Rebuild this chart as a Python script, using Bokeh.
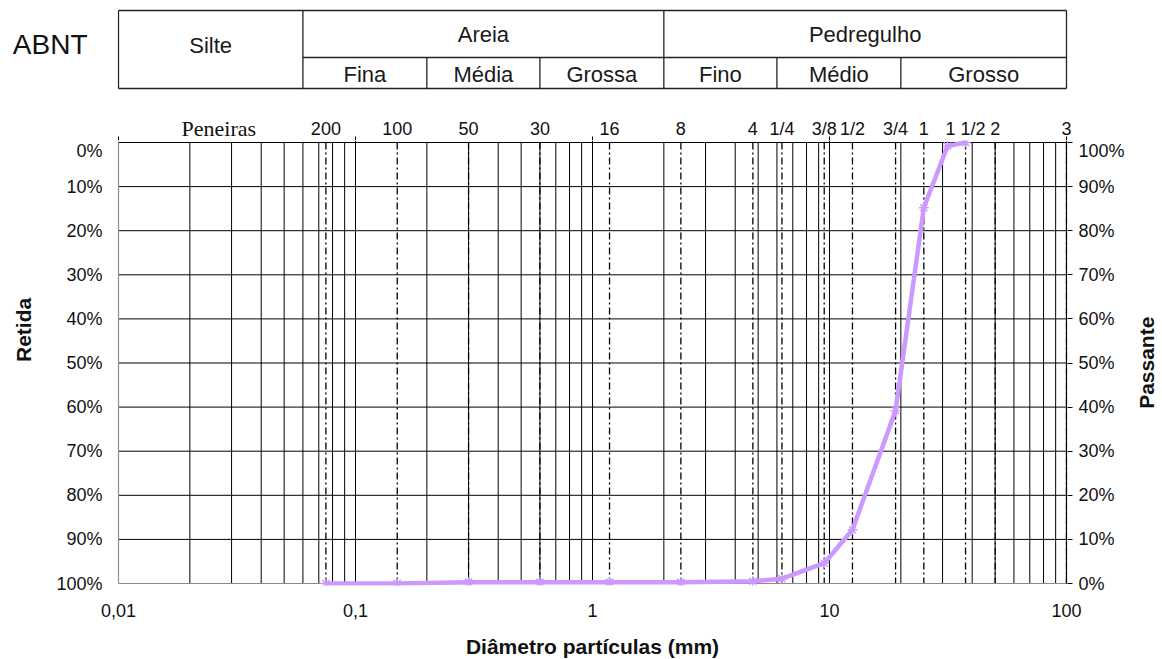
import math
from bokeh.plotting import figure
from bokeh.layouts import column
from bokeh.models import Range1d, LinearAxis, FixedTicker
from bokeh.core.properties import value
from bokeh.embed import file_html
from bokeh.resources import INLINE

# ---------------- data ----------------
SIEVE_LABELS = ["200", "100", "50", "30", "16", "8", "4", "1/4", "3/8", "1/2",
                "3/4", "1", "1 1/2", "2", "3"]
SIEVE_MM = [0.075, 0.15, 0.3, 0.6, 1.18, 2.36, 4.75, 6.3, 9.5, 12.5,
            19.0, 25.0, 37.5, 50.0, 100.0]

CURVE_MM = [0.075, 0.15, 0.3, 0.6, 1.18, 2.36, 4.75, 6.3, 9.5, 12.5,
            19.0, 25.0, 31.5, 37.5]
CURVE_PASSING = [0.0, 0.0, 0.3, 0.3, 0.3, 0.3, 0.5, 1.1, 4.6, 12.2,
                 39.2, 85.2, 99.2, 100.0]

Y_TICKS = [0, 10, 20, 30, 40, 50, 60, 70, 80, 90, 100]
X_TICKS = [0.01, 0.1, 1, 10, 100]
X_TICK_LABELS = ["0,01", "0,1", "1", "10", "100"]

CLASS_MAJOR = ["Silte", "Areia", "Pedregulho"]
CLASS_MAJOR_BOUNDS = [0.01, 0.06, 2.0, 100.0]
CLASS_MINOR = ["Fina", "Média", "Grossa", "Fino", "Médio", "Grosso"]
CLASS_MINOR_BOUNDS = [0.06, 0.2, 0.6, 2.0, 6.0, 20.0, 100.0]

# ---------------- style constants ----------------
PX_PER_DEC = 237.0
PX_PER_PCT = 4.41
FONT = "Liberation Sans"
LAV = "#CC99FF"
TXT = "#111111"
X_START = 0.01 * 10 ** (-1 / PX_PER_DEC)


def plain_axis(ax, size="18px", standoff=10, bold=False):
    ax.axis_line_color = None
    ax.major_tick_line_color = None
    ax.minor_tick_line_color = None
    ax.major_tick_out = 0
    ax.major_tick_in = 0
    ax.minor_tick_out = 0
    ax.minor_tick_in = 0
    ax.major_label_standoff = standoff
    ax.major_label_text_font = FONT
    ax.major_label_text_font_size = size
    ax.major_label_text_color = TXT
    if bold:
        ax.major_label_text_font_style = "bold"


# ================= header figure (classification table + sieve names) =================
# y in pixel units (0 = top of page); x on the same log scale as the chart
hdr = figure(x_axis_type="log",
             x_range=Range1d(X_START, 100 * 10 ** (31 / PX_PER_DEC)),
             y_range=Range1d(140, 0),
             frame_width=980, frame_height=140,
             min_border_left=117, min_border_right=65, min_border_top=0, min_border_bottom=0,
             x_axis_location=None, y_axis_location="left",
             output_backend="svg", toolbar_location=None, title=None)
hdr.outline_line_color = None
hdr.xgrid.visible = False
hdr.ygrid.visible = False
ha = hdr.yaxis[0]
ha.ticker = FixedTicker(ticks=[44])
ha.major_label_overrides = {44: "ABNT"}
plain_axis(ha, size="28px", standoff=30)

H_TOP, H_MID, H_BOT = 10, 57, 88
hx0 = [CLASS_MAJOR_BOUNDS[0], CLASS_MAJOR_BOUNDS[0], CLASS_MAJOR_BOUNDS[1]]
hx1 = [CLASS_MAJOR_BOUNDS[-1]] * 3
hyy = [H_TOP, H_BOT, H_MID]
hdr.segment(x0=hx0, x1=hx1, y0=hyy, y1=hyy, line_color="#222222", line_width=1.3)
hdr.segment(x0=CLASS_MAJOR_BOUNDS, x1=CLASS_MAJOR_BOUNDS,
            y0=[H_TOP] * len(CLASS_MAJOR_BOUNDS), y1=[H_BOT] * len(CLASS_MAJOR_BOUNDS),
            line_color="#222222", line_width=1.3)
inner = [b for b in CLASS_MINOR_BOUNDS if b not in CLASS_MAJOR_BOUNDS]
hdr.segment(x0=inner, x1=inner, y0=[H_MID] * len(inner), y1=[H_BOT] * len(inner),
            line_color="#222222", line_width=1.3)

maj_x = [math.sqrt(a * b) for a, b in zip(CLASS_MAJOR_BOUNDS[:-1], CLASS_MAJOR_BOUNDS[1:])]
hdr.text(x=maj_x, y=[45, 33.5, 33.5], text=CLASS_MAJOR, text_font=value(FONT),
         text_font_size="22px", text_color="#1a1a1a", text_align="center", text_baseline="middle")
min_x = [math.sqrt(a * b) for a, b in zip(CLASS_MINOR_BOUNDS[:-1], CLASS_MINOR_BOUNDS[1:])]
hdr.text(x=min_x, y=[74] * len(min_x), text=CLASS_MINOR, text_font=value(FONT),
         text_font_size="22px", text_color="#1a1a1a", text_align="center", text_baseline="middle")

hdr.text(x=SIEVE_MM, y=[128] * len(SIEVE_MM), text=SIEVE_LABELS,
         text_font=value(FONT), text_font_size="18px", text_color=TXT,
         text_align="center", text_baseline="middle")
hdr.text(x=[0.0265], y=[128], text=["Peneiras"],
         text_font=value("Liberation Serif"), text_font_size="22px", text_color=TXT,
         text_align="center", text_baseline="middle")
hdr.segment(x0=X_TICKS, x1=X_TICKS, y0=[136] * len(X_TICKS), y1=[140] * len(X_TICKS),
            line_color="black", line_width=1)

# ================= main chart =================
p = figure(x_axis_type="log",
           x_range=Range1d(X_START, 100 * 10 ** (1 / PX_PER_DEC)),
           y_range=Range1d(100 + 2 / PX_PER_PCT, -2 / PX_PER_PCT),
           frame_width=950, frame_height=445,
           min_border_left=117, min_border_right=95, min_border_top=0, min_border_bottom=60,
           output_backend="svg", toolbar_location=None, title=None)
p.background_fill_color = "white"
p.border_fill_color = "white"
p.outline_line_color = None
p.xgrid.visible = False
p.ygrid.visible = False

# left axis (Retida %)
ly = p.yaxis[0]
ly.ticker = FixedTicker(ticks=Y_TICKS)
ly.major_label_overrides = {t: f"{t}%" for t in Y_TICKS}
plain_axis(ly, size="18px", standoff=15)

# "Retida" title, as a single vertical label on an outer left axis
rt = LinearAxis(ticker=FixedTicker(ticks=[42.5]))
rt.major_label_overrides = {42.5: "Retida"}
plain_axis(rt, size="21px", standoff=18, bold=True)
rt.major_label_orientation = "vertical"
p.add_layout(rt, "left")

# right axis (Passante %)
p.extra_y_ranges = {"pass": Range1d(-2 / PX_PER_PCT, 100 + 2 / PX_PER_PCT)}
ry = LinearAxis(y_range_name="pass", ticker=FixedTicker(ticks=Y_TICKS))
ry.major_label_overrides = {t: f"{t}%" for t in Y_TICKS}
plain_axis(ry, size="18px", standoff=6)
ry.major_tick_line_color = "black"
ry.major_tick_out = 5
p.add_layout(ry, "right")

# "Passante" title, a single label reading upwards on an outer right axis
# (the rotated label starts at its tick, so the tick sits below mid-height)
pt = LinearAxis(y_range_name="pass", ticker=FixedTicker(ticks=[39.6]))
pt.major_label_overrides = {39.6: "Passante"}
plain_axis(pt, size="21px", standoff=19, bold=True)
pt.major_label_orientation = math.pi / 2
p.add_layout(pt, "right")

# bottom axis
bx = p.xaxis[0]
bx.ticker = FixedTicker(ticks=X_TICKS)
bx.major_label_overrides = dict(zip(X_TICKS, X_TICK_LABELS))
plain_axis(bx, size="18px", standoff=18)
bx.axis_label = "Diâmetro partículas (mm)"
bx.axis_label_text_font = FONT
bx.axis_label_text_font_size = "21px"
bx.axis_label_text_font_style = "bold"
bx.axis_label_text_color = TXT
bx.axis_label_standoff = 15

# vertical grid lines (1..9 x each decade)
vx = []
for d in [0.01, 0.1, 1, 10]:
    for m in range(1, 10):
        vx.append(d * m)
vx.append(100.0)
vx_in = vx[1:-1]
p.segment(x0=vx_in, x1=vx_in, y0=[0] * len(vx_in), y1=[100] * len(vx_in),
          line_color="black", line_width=1)

# horizontal grid lines
hy = Y_TICKS[:-1]
p.segment(x0=[X_TICKS[0]] * len(hy), x1=[X_TICKS[-1]] * len(hy), y0=hy, y1=hy,
          line_color="black", line_width=1)

# sieve dash-dot lines
p.segment(x0=SIEVE_MM, x1=SIEVE_MM, y0=[0] * len(SIEVE_MM), y1=[100] * len(SIEVE_MM),
          line_color="black", line_width=1.3, line_dash="7 3 2 3")

# borders
p.segment(x0=[X_TICKS[0]], x1=[X_TICKS[-1]], y0=[100], y1=[100], line_color="#8c8c8c", line_width=1.2)
p.segment(x0=[X_TICKS[0]], x1=[X_TICKS[0]], y0=[-0.5], y1=[100], line_color="#8c8c8c", line_width=1.2)
p.segment(x0=[X_TICKS[-1]], x1=[X_TICKS[-1]], y0=[0], y1=[100], line_color="black", line_width=1.2)
p.segment(x0=X_TICKS[1:], x1=X_TICKS[1:], y0=[0] * 4, y1=[-0.5] * 4,
          line_color="black", line_width=1)

# granulometric curve
p.line(CURVE_MM, CURVE_PASSING, y_range_name="pass", line_color=LAV, line_width=4.5)
p.scatter(CURVE_MM, CURVE_PASSING, y_range_name="pass", marker="asterisk", size=10,
          line_color=LAV, line_width=1.5)

layout = column(hdr, p, spacing=0)
open("out.html", "w").write(file_html(layout, INLINE))
